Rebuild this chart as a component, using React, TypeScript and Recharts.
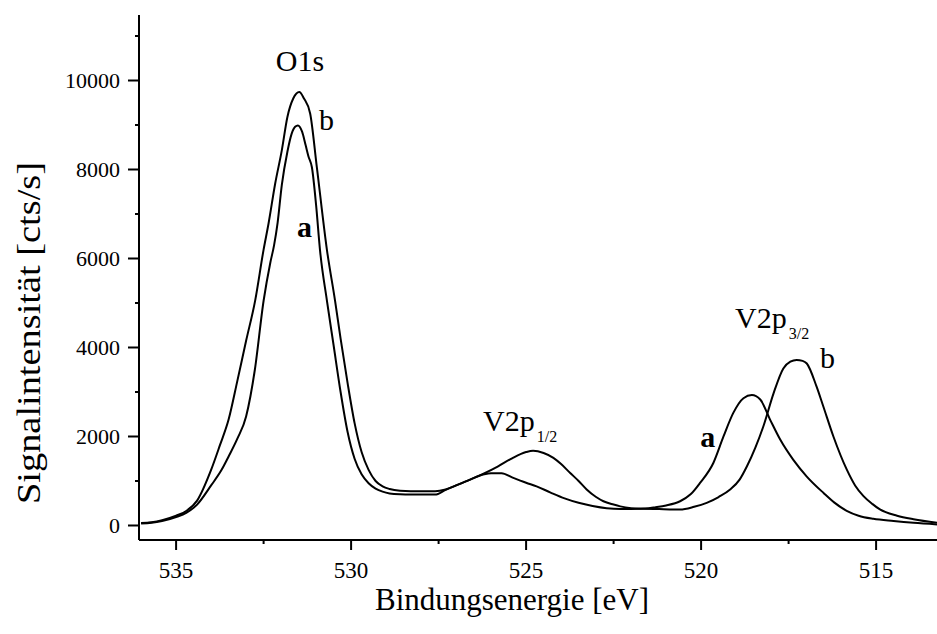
import { LineChart, Line, XAxis, YAxis, ReferenceDot } from "recharts";

// XPS survey: binding energy [eV] vs. signal [cts/s], samples a and b
const energyA = [
  536.0, 535.7, 535.4, 535.0, 534.7, 534.4, 534.0, 533.7, 533.5, 533.25, 533.0, 532.75,
  532.5, 532.31, 532.2, 532.1, 531.98, 531.82, 531.7, 531.6, 531.52, 531.4, 531.3, 531.22,
  531.12, 531.0, 530.89, 530.69, 530.5, 530.3, 530.1, 529.9, 529.7, 529.5, 529.3, 529.1,
  528.9, 528.6, 528.3, 527.6, 527.3, 527.0, 526.6, 526.2, 526.0, 525.7, 525.4, 525.0,
  524.7, 524.3, 523.9, 523.5, 523.1, 522.7, 522.3, 522.0, 521.6, 521.3, 521.0, 520.6,
  520.3, 520.03, 519.65, 519.36, 519.08, 518.79, 518.55, 518.31, 518.03, 517.74, 517.37,
  516.98, 516.5, 516.2, 515.84, 515.5, 515.08, 514.5, 513.93, 513.26,
];
const countsA = [
  45, 60, 100, 190, 290, 470, 900, 1250, 1550, 1950, 2450, 3500,
  5050, 5900, 6300, 6800, 7650, 8400, 8800, 8960, 8990, 8850, 8550, 8300,
  8050, 7200, 6200, 5050, 4050, 3000, 2100, 1500, 1150, 950, 830, 760,
  720, 700, 695, 695, 800, 900, 1030, 1150, 1175, 1175, 1080, 960,
  880, 740, 610, 510, 440, 390, 372, 372, 380, 410, 450, 545,
  700, 957, 1405, 2000, 2530, 2860, 2930, 2830, 2380, 1930, 1480,
  1100, 730, 520, 330, 220, 150, 100, 60, 25,
];

const energyB = [
  536.0, 535.7, 535.4, 535.0, 534.7, 534.4, 534.0, 533.75, 533.5, 533.25, 533.0, 532.74,
  532.5, 532.36, 532.17, 531.98, 531.82, 531.65, 531.48, 531.35, 531.17, 530.98, 530.69,
  530.46, 530.3, 530.1, 529.9, 529.7, 529.5, 529.3, 529.1, 528.9, 528.6, 528.3, 527.6,
  527.3, 527.0, 526.6, 526.2, 525.8, 525.4, 525.0, 524.8, 524.5, 524.22, 524.0, 523.74,
  523.5, 523.27, 523.0, 522.79, 522.5, 522.31, 522.0, 521.65, 521.2, 520.9, 520.6, 520.2,
  519.84, 519.5, 519.17, 518.9, 518.69, 518.45, 518.22, 517.93, 517.65, 517.45, 517.27,
  517.1, 516.98, 516.7, 516.51, 516.22, 515.84, 515.6, 515.36, 515.1, 514.89, 514.4,
  513.93, 513.26,
];
const countsB = [
  55, 75, 120, 220, 330, 560, 1250, 1800, 2380, 3250, 4150, 5060,
  6200, 6780, 7680, 8430, 9180, 9600, 9740, 9600, 9260, 8060, 6190,
  5060, 4200, 3200, 2300, 1650, 1250, 1000, 880, 820, 780, 770, 770,
  810, 900, 1030, 1170, 1330, 1510, 1650, 1680, 1630, 1520, 1380, 1180,
  1000, 810, 640, 545, 470, 430, 390, 375, 368, 362, 359, 420,
  509, 640, 807, 1030, 1330, 1750, 2230, 2970, 3530, 3680, 3720,
  3700, 3640, 3120, 2680, 2000, 1260, 900, 660, 480, 360, 220,
  140, 60,
];

const xTicks = [535, 532.5, 530, 527.5, 525, 522.5, 520, 517.5, 515];
const yTicks = [0, 1000, 2000, 3000, 4000, 5000, 6000, 7000, 8000, 9000, 10000, 11000];

const FONT = '"Liberation Serif", "Times New Roman", Times, serif';

const seriesA = energyA.map((e, i) => ({ e, v: countsA[i] }));
const seriesB = energyB.map((e, i) => ({ e, v: countsB[i] }));

function XTick(props: any) {
  const { x, y, payload } = props;
  const major = payload.value % 5 === 0;
  return (
    <g>
      <line x1={x} x2={x} y1={y} y2={y + (major ? 10 : 4)} stroke="#000" strokeWidth={2} />
      {major && (
        <text x={x} y={y + 38} textAnchor="middle" fontSize={23} fontFamily={FONT} fill="#000">
          {payload.value}
        </text>
      )}
    </g>
  );
}

function YTick(props: any) {
  const { x, y, payload } = props;
  const major = payload.value % 2000 === 0;
  return (
    <g>
      <line x1={x - (major ? 11 : 4)} x2={x} y1={y} y2={y} stroke="#000" strokeWidth={2} />
      {major && (
        <text x={x - 19} y={y} dy="0.35em" textAnchor="end" fontSize={22} fontFamily={FONT} fill="#000">
          {payload.value}
        </text>
      )}
    </g>
  );
}

// vertical axis title, stretched along its length
function YTitle(props: any) {
  const { viewBox } = props;
  const cx = viewBox.x + 29;
  const cy = viewBox.y + 318;
  return (
    <text
      transform={`translate(${cx},${cy}) rotate(-90)`}
      textAnchor="middle"
      dominantBaseline="central"
      fontSize={33}
      fontFamily={FONT}
      fill="#000"
      textLength={342}
      lengthAdjust="spacingAndGlyphs"
    >
      Signalintensität [cts/s]
    </text>
  );
}

// text placed at a data coordinate; sub = subscript after the main text
function note(text: string, opts: { sub?: string; bold?: boolean; anchor?: "start" | "middle" } = {}) {
  return (p: any) => (
    <text
      x={p.cx}
      y={p.cy}
      textAnchor={opts.anchor ?? "middle"}
      fontSize={30}
      fontWeight={opts.bold ? "bold" : "normal"}
      fontFamily={FONT}
      fill="#000"
    >
      {text}
      {opts.sub && (
        <tspan fontSize={16} dx={2} dy={11}>
          {opts.sub}
        </tspan>
      )}
    </text>
  );
}

export default function App() {
  return (
    <div style={{ position: "absolute", left: 0, top: 0, width: 937, height: 634, background: "#fff" }}>
      <LineChart width={937} height={634} margin={{ top: 15, right: 0, bottom: 0, left: 0 }}>
        <XAxis
          dataKey="e"
          type="number"
          domain={[513.26, 536.06]}
          reversed
          allowDataOverflow
          ticks={xTicks}
          interval={0}
          height={94}
          tickSize={0}
          tickMargin={0}
          tick={<XTick />}
          axisLine={{ stroke: "#000", strokeWidth: 2 }}
          label={{
            value: "Bindungsenergie [eV]",
            position: "insideBottom",
            offset: 24,
            dx: -26,
            fontSize: 31,
            fontFamily: FONT,
            fill: "#000",
          }}
        />
        <XAxis
          xAxisId="top"
          orientation="top"
          dataKey="e"
          type="number"
          domain={[513.26, 536.06]}
          reversed
          height={0}
          tick={false}
          tickLine={false}
          axisLine={{ stroke: "#000", strokeWidth: 2 }}
        />
        <YAxis
          type="number"
          domain={[-326, 11472]}
          allowDataOverflow
          ticks={yTicks}
          interval={0}
          width={139}
          tickSize={0}
          tickMargin={0}
          tick={<YTick />}
          axisLine={{ stroke: "#000", strokeWidth: 2 }}
          label={{ content: <YTitle /> }}
        />
        <Line
          data={seriesA}
          dataKey="v"
          type="monotone"
          stroke="#000"
          strokeWidth={2}
          dot={false}
          isAnimationActive={false}
        />
        <Line
          data={seriesB}
          dataKey="v"
          type="monotone"
          stroke="#000"
          strokeWidth={2}
          dot={false}
          isAnimationActive={false}
        />
        <ReferenceDot x={531.46} y={10213} r={0} shape={note("O1s")} />
        <ReferenceDot x={530.7} y={8888} r={0} shape={note("b")} />
        <ReferenceDot x={531.33} y={6483} r={0} shape={note("a", { bold: true })} />
        <ReferenceDot x={526.23} y={2124} r={0} shape={note("V2p", { sub: "1/2", anchor: "start" })} />
        <ReferenceDot x={519.03} y={4438} r={0} shape={note("V2p", { sub: "3/2", anchor: "start" })} />
        <ReferenceDot x={516.39} y={3539} r={0} shape={note("b")} />
        <ReferenceDot x={519.81} y={1764} r={0} shape={note("a", { bold: true })} />
      </LineChart>
    </div>
  );
}
